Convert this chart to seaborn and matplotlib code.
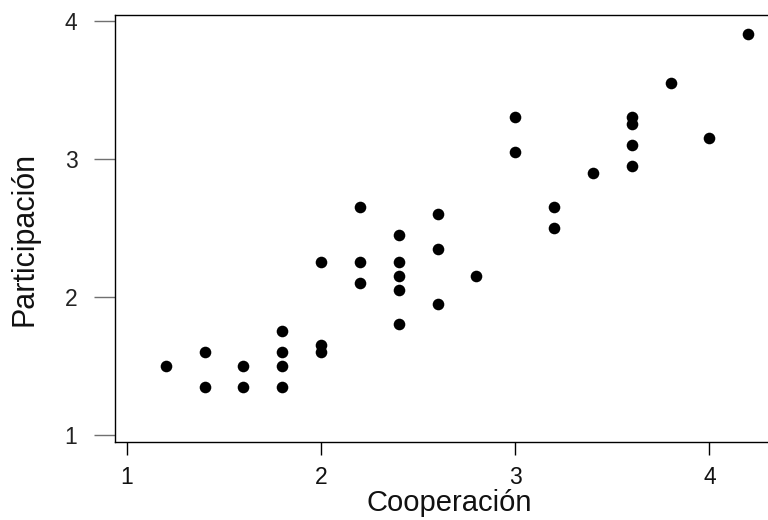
import matplotlib
matplotlib.use("Agg")
import matplotlib.pyplot as plt
import seaborn as sns
import pandas as pd

# Cooperation and participation scores per respondent
cooperacion = [1.2, 1.4, 1.4, 1.6, 1.6, 1.8, 1.8, 1.8, 1.8,
               2.0, 2.0, 2.0, 2.2, 2.2, 2.2,
               2.4, 2.4, 2.4, 2.4, 2.4, 2.6, 2.6, 2.6, 2.8,
               3.0, 3.0, 3.2, 3.2, 3.4, 3.6, 3.6, 3.6, 3.6,
               3.8, 4.0, 4.2]
participacion = [1.5, 1.6, 1.35, 1.5, 1.35, 1.75, 1.6, 1.5, 1.35,
                 2.25, 1.65, 1.6, 2.65, 2.25, 2.1,
                 2.45, 2.25, 2.15, 2.05, 1.8, 2.6, 2.35, 1.95, 2.15,
                 3.3, 3.05, 2.65, 2.5, 2.9, 3.3, 3.25, 3.1, 2.95,
                 3.55, 3.15, 3.9]
x_ticks = [1, 2, 3, 4]
y_ticks = [1, 2, 3, 4]

df = pd.DataFrame({"Cooperación": cooperacion, "Participación": participacion})

sns.set_style("white")
plt.rcParams["font.family"] = ["Liberation Sans", "DejaVu Sans"]

fig = plt.figure(figsize=(7.68, 5.20), dpi=100)
ax = fig.add_axes([115 / 768, 1 - 442 / 520, (783 - 115) / 768, (442 - 15) / 520])

sns.scatterplot(data=df, x="Cooperación", y="Participación", ax=ax,
                color="black", s=70, linewidth=0, legend=False)

ax.set_xlim(0.939, 4.379)
ax.set_ylim(0.949, 4.041)
ax.set_xticks(x_ticks)
ax.set_yticks(y_ticks)
ax.set_xticklabels([str(t) for t in x_ticks])
ax.set_yticklabels([str(t) for t in y_ticks])

for side in ["left", "bottom", "top", "right"]:
    ax.spines[side].set_visible(True)
    ax.spines[side].set_color("black")
    ax.spines[side].set_linewidth(1.0)

ax.tick_params(axis="x", direction="out", length=9.5, width=1.0, color="black",
               labelsize=16.5, pad=8, labelcolor="#111111", bottom=True)
ax.tick_params(axis="y", direction="out", length=15, width=1.0, color="#707070",
               labelsize=16.5, pad=12, labelcolor="#222222", left=True)

ax.set_xlabel("Cooperación", fontsize=21, color="#111111")
ax.set_ylabel("Participación", fontsize=22, color="#111111")
ax.xaxis.set_label_coords(0.5, -0.11)
ax.yaxis.set_label_coords(-0.113, 0.475)

fig.savefig("out.png", dpi=100)
